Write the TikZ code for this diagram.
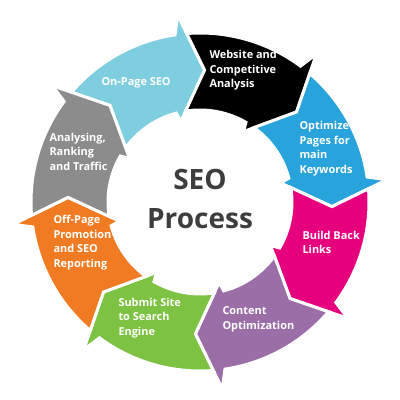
\documentclass[tikz,border=0pt]{standalone}
\usepackage{fontspec}
\setmainfont{Open Sans}
\tikzset{every picture/.style={line width=0.75pt}}
\tikzset{segment/.style={draw=white, line width=2.25pt},
  steplabel/.style={anchor=west, inner sep=0.75pt, align=left, text=white, font=\fontsize{8.2}{10.9}\selectfont\bfseries}}

\begin{document}
\begin{tikzpicture}[x=0.75pt,y=0.75pt,yscale=-1,xscale=1]
\useasboundingbox (0,0) rectangle (400,400); %set diagram to 400 x 400

\begin{scope}[shift={(200,202)}]
%Shape: Arc Arrow [On-Page SEO]
\draw [segment, fill={rgb, 255:red, 126; green, 206; blue, 224 }] (-139.5:169) arc [start angle=-139.5, end angle=-98.5, radius=169] -- (-96.8:188.1) -- (-88:132) -- (-103.3:82.8) -- (-105:92) arc [start angle=-105, end angle=-144, radius=92] -- (-133:132) -- cycle ;
%Shape: Arc Arrow [Website]
\draw [segment, fill={rgb, 255:red, 0; green, 0; blue, 0 }] (-94.5:169) arc [start angle=-94.5, end angle=-53.5, radius=169] -- (-51.8:188.1) -- (-43:132) -- (-58.3:82.8) -- (-60:92) arc [start angle=-60, end angle=-99, radius=92] -- (-88:132) -- cycle ;
%Shape: Arc Arrow [Optimize]
\draw [segment, fill={rgb, 255:red, 41; green, 163; blue, 220 }] (-49.5:169) arc [start angle=-49.5, end angle=-8.5, radius=169] -- (-6.8:188.1) -- (2:132) -- (-13.3:82.8) -- (-15:92) arc [start angle=-15, end angle=-54, radius=92] -- (-43:132) -- cycle ;
%Shape: Arc Arrow [Back Links]
\draw [segment, fill={rgb, 255:red, 230; green, 0; blue, 126 }] (-4.5:169) arc [start angle=-4.5, end angle=36.5, radius=169] -- (38.2:188.1) -- (47:132) -- (31.7:82.8) -- (30:92) arc [start angle=30, end angle=-9, radius=92] -- (2:132) -- cycle ;
%Shape: Arc Arrow [Content]
\draw [segment, fill={rgb, 255:red, 155; green, 110; blue, 168 }] (40.5:169) arc [start angle=40.5, end angle=81.5, radius=169] -- (83.2:188.1) -- (92:132) -- (76.7:82.8) -- (75:92) arc [start angle=75, end angle=36, radius=92] -- (47:132) -- cycle ;
%Shape: Arc Arrow [Submit]
\draw [segment, fill={rgb, 255:red, 125; green, 194; blue, 67 }] (85.5:169) arc [start angle=85.5, end angle=126.5, radius=169] -- (128.2:188.1) -- (137:132) -- (121.7:82.8) -- (120:92) arc [start angle=120, end angle=81, radius=92] -- (92:132) -- cycle ;
%Shape: Arc Arrow [Off-Page]
\draw [segment, fill={rgb, 255:red, 240; green, 123; blue, 34 }] (130.5:169) arc [start angle=130.5, end angle=171.5, radius=169] -- (173.2:188.1) -- (182:132) -- (166.7:82.8) -- (165:92) arc [start angle=165, end angle=126, radius=92] -- (137:132) -- cycle ;
%Shape: Arc Arrow [Analysing]
\draw [segment, fill={rgb, 255:red, 140; green, 140; blue, 140 }] (175.5:169) arc [start angle=175.5, end angle=216.5, radius=169] -- (218.2:188.1) -- (227:132) -- (211.7:82.8) -- (210:92) arc [start angle=210, end angle=171, radius=92] -- (182:132) -- cycle ;
\end{scope}

% Text Node
\draw (200,198.5) node [anchor=center][inner sep=0pt][align=center][text={rgb, 255:red, 61; green, 61; blue, 61 }][font=\fontsize{21}{29.25}\selectfont\bfseries] (seo) {SEO\\Process};
% Text Node
\draw (100,83) node [steplabel] (onpage) {On-Page SEO};
% Text Node
\draw (208,70.5) node [steplabel] (website) {Website and\\Competitive\\Analysis};
% Text Node
\draw (298,148.5) node [steplabel] (optimize) {Optimize\\Pages for\\main\\Keywords};
% Text Node
\draw (301,242.5) node [steplabel] (backlinks) {Build Back\\Links};
% Text Node
\draw (221,319.5) node [steplabel] (content) {Content\\Optimization};
% Text Node
\draw (117,318) node [steplabel] (submit) {Submit Site\\to Search\\Engine};
% Text Node
\draw (52,242.5) node [steplabel] (offpage) {Off-Page\\Promotion\\and SEO\\Reporting};
% Text Node
\draw (48,151.5) node [steplabel] (analysing) {Analysing,\\Ranking\\and Traffic};

\end{tikzpicture}
\end{document}
